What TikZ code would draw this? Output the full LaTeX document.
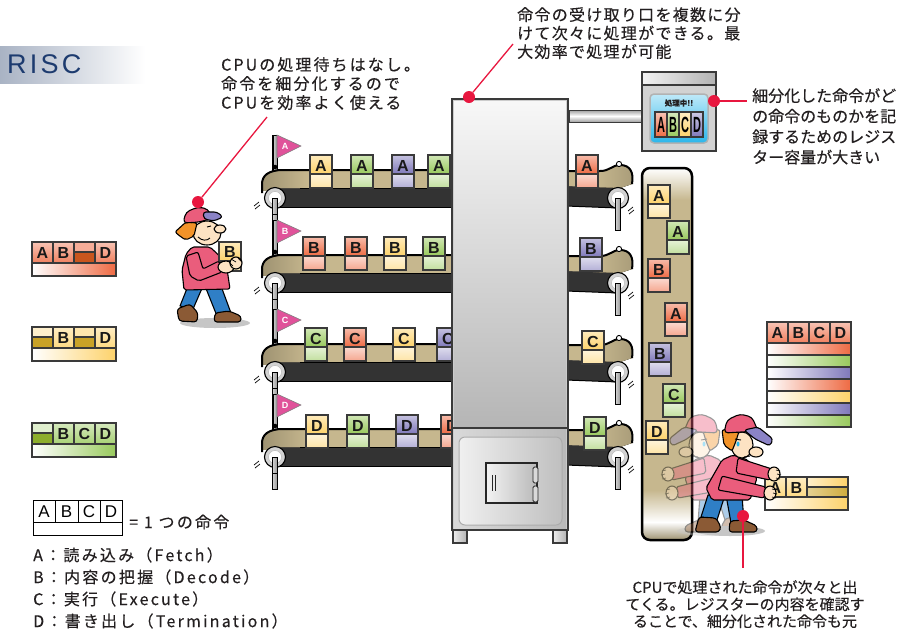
\documentclass[tikz,border=0pt]{standalone}
\usepackage{fontspec}
\newfontfamily\jp{Noto Sans CJK JP}[FakeBold=0.35]
\newfontfamily\jpwide{Noto Sans CJK JP}[LetterSpace=8, FakeBold=0.35]
\newfontfamily\jpcpu{Noto Sans CJK JP}[LetterSpace=13, FakeBold=0.35]
\newfontfamily\jplegend{Noto Sans CJK JP}[LetterSpace=14, FakeBold=0.35]
\newfontfamily\lat{Liberation Sans}
\newfontfamily\latwide{Liberation Sans}[LetterSpace=12]

\definecolor{tOr}{HTML}{EE6A43}
\definecolor{tGr}{HTML}{98C95C}
\definecolor{tPu}{HTML}{7F78BA}
\definecolor{tYe}{HTML}{FDD26A}
\definecolor{dOr}{HTML}{C9561E}
\definecolor{dYe}{HTML}{C9A227}
\definecolor{dGr}{HTML}{8DAE2C}
\definecolor{edge}{HTML}{3A3A3A}
\definecolor{belt}{HTML}{C6B78E}
\definecolor{beltrun}{HTML}{333333}
\definecolor{callred}{HTML}{E8173F}
\definecolor{flagpink}{HTML}{E0529A}
\definecolor{riscblue}{HTML}{1D3B6F}
\definecolor{banner}{HTML}{A9B3C4}
\definecolor{textgray}{HTML}{231F20}
\definecolor{jacket}{HTML}{EA5D7C}
\definecolor{jeans}{HTML}{2F7FC6}
\definecolor{shoe}{HTML}{8B5A35}
\definecolor{skin}{HTML}{FDE3C3}
\definecolor{hair}{HTML}{F29329}
\definecolor{brim}{HTML}{8B83C6}
\definecolor{screen}{HTML}{2BB6EA}

\tikzset{
  tilebox/.style={draw=edge, line width=1.1pt},
  tileletter/.style={font=\lat\bfseries\fontsize{16}{16}\selectfont, inner sep=0pt, text=black!90},
  ink/.style={draw=black, line width=1.1pt, line join=round},
  callout/.style={draw=callred, line width=1.3pt},
  calldot/.style={circle, fill=callred, inner sep=0pt, minimum size=12pt},
  note/.style={font=\jpwide\fontsize{16}{19}\selectfont, text=textgray, inner sep=0pt, align=left},
  legend/.style={font=\jplegend\fontsize{16}{16}\selectfont, text=textgray, inner sep=0pt, anchor=west},
  mast/.style={draw=black, line width=0.8pt, left color=gray!35, right color=gray!85},
  motion/.style={draw=black, line width=0.7pt}
}

% instruction tile riding a belt: left, top, colour, letter
\newcommand\beltTile[4]{%
  \path[tilebox, top color=#3!45, bottom color=#3] (#1,#2) rectangle ++(22,19);
  \path[tilebox, top color=#3!25, bottom color=#3!60] (#1,#2+19) rectangle ++(22,14);
  \node[tileletter] (tile-#1-#2) at (#1+11,#2+10.5) {#4};
}
% one lettered stage cell of an instruction: left, top, colour, letter
\newcommand\letterCell[4]{%
  \path[tilebox, top color=#3!40, bottom color=#3!85] (#1,#2) rectangle ++(21,21);
  \node[tileletter] (cell-#1-#2) at (#1+10.5,#2+11) {#4};
}
% an empty stage cell: left, top, light colour, dark colour
\newcommand\splitCell[4]{%
  \path[tilebox, fill=#3] (#1,#2) rectangle ++(21,10);
  \path[tilebox, fill=#4] (#1,#2+10) rectangle ++(21,11);
}
% lower bar of an instruction: left, top, width, height, colour
\newcommand\stageBar[5]{%
  \path[tilebox, left color=white, right color=#5] (#1,#2) rectangle ++(#3,#4);
}

% conveyor feeding the unit from the left: roller height, flag letter
\newcommand\leftBelt[2]{%
  \path[mast] (273,#1-63) rectangle (277,#1-28);
  \path[draw=black!50, line width=0.6pt, fill=flagpink] (277,#1-63) -- (301,#1-52) -- (277,#1-40) -- cycle;
  \node[font=\lat\bfseries\fontsize{9}{9}\selectfont, text=white, inner sep=0pt] (flag-#2) at (285,#1-52) {#2};
  \fill[black] (275,#1-31) circle (2.3);
  \path[fill=beltrun, draw=black, line width=1pt] (275,#1-11) rectangle (452,#1+9);
  \begin{scope}
    \clip (452,#1-28) -- (283,#1-28) .. controls (268,#1-28) and (262,#1-22) .. (262,#1-14) -- (262,#1-5) -- (272,#1-10) -- (452,#1-10) -- cycle;
    \fill[belt] (260,#1-30) rectangle (452,#1-8);
    \fill[left color=belt!80!black, middle color=white, right color=belt] (262,#1-30) rectangle (308,#1-8);
  \end{scope}
  \draw[black, line width=2pt] (452,#1-28) -- (283,#1-28) .. controls (268,#1-28) and (262,#1-22) .. (262,#1-14) -- (262,#1-5);
  \draw[black, line width=1pt] (300,#1-10) -- (452,#1-10);
  \path[fill=gray!35, draw=black, line width=1.1pt] (275,#1) circle (10.5);
  \path[fill=white, draw=gray!60] (275,#1) circle (6.5);
  \path[mast] (272.5,#1) rectangle (277.5,#1+16);
  \draw[motion] (254,#1+8) -- (259,#1+4) (255,#1+11) -- (260,#1+7);
}
% conveyor leaving the unit on the right: roller height
\newcommand\rightBelt[1]{%
  \path[fill=beltrun, draw=black, line width=1pt] (566,#1-13) -- (618,#1-11) -- (618,#1+10) -- (566,#1+8) -- cycle;
  \begin{scope}
    \clip (566,#1-27) -- (600,#1-27) .. controls (610,#1-27) and (612,#1-33) .. (620,#1-33) .. controls (630,#1-33) and (634,#1-26) .. (632,#1-14) -- (620,#1-10) -- (566,#1-12) -- cycle;
    \fill[belt] (560,#1-36) rectangle (636,#1-8);
    \fill[left color=belt, middle color=white, right color=belt!85!black] (596,#1-36) rectangle (634,#1-8);
  \end{scope}
  \draw[black, line width=2pt] (566,#1-27) -- (600,#1-27) .. controls (610,#1-27) and (612,#1-33) .. (620,#1-33) .. controls (630,#1-33) and (634,#1-26) .. (632,#1-14);
  \path[fill=white, draw=black, line width=0.9pt] (619,#1-34) circle (2.6);
  \path[fill=gray!35, draw=black, line width=1.1pt] (618,#1) circle (10.5);
  \path[fill=white, draw=gray!60] (618,#1) circle (6.5);
  \path[mast] (615.5,#1) rectangle (620.5,#1+32);
  \draw[motion] (628,#1+13) -- (633,#1+9) (629,#1+16) -- (634,#1+12);
}

% worker reaching forward, drawn around the centre of its shadow
\newcommand\reachWorker{%
  \fill[gray!45] (0,0) ellipse [x radius=35, y radius=5];
  \path[ink, fill=jeans] (-22,-36) -- (-5,-36) -- (-13,-11) -- (-29,-14) -- cycle;
  \path[ink, fill=jeans] (-4,-36) -- (12,-36) -- (14,-8) -- (1,-8) -- cycle;
  \path[ink, fill=shoe, rounded corners=3pt] (-35,1) -- (-31,-14) -- (-14,-13) -- (-9,-4) -- (-11,1) -- cycle;
  \path[ink, fill=shoe, rounded corners=3pt] (-1,1) -- (0,-10) -- (14,-11) -- (27,-5) -- (27,1) -- cycle;
  \path[ink, fill=jacket, rounded corners=2pt] (3,-76) -- (18,-71) -- (27,-53) -- (20,-31) -- (-18,-31) -- (-24,-43) -- (-8,-71) -- cycle;
  \path[ink, fill=jacket, rounded corners=2pt] (8,-73) -- (42,-62) -- (40,-51) -- (6,-58) -- cycle;
  \path[ink, fill=jacket, rounded corners=2pt] (-8,-55) -- (36,-44) -- (34,-33) -- (-12,-41) -- cycle;
  \path[ink, fill=skin] (44,-57) ellipse [x radius=6, y radius=7];
  \path[ink, fill=skin] (40,-38) ellipse [x radius=6, y radius=7];
  \draw[black, line width=0.7pt] (46,-61) -- (50,-60) (47,-57) -- (51,-56) (46,-53) -- (50,-52)
    (42,-42) -- (46,-41) (43,-38) -- (47,-37) (42,-34) -- (46,-33);
  \path[ink, fill=skin] (12,-86) ellipse [x radius=11, y radius=13];
  \path[ink, fill=skin] (26,-79) ellipse [x radius=7, y radius=5];
  \path[ink, fill=hair, rounded corners=2pt] (-8,-101) -- (10,-103) -- (6,-90) -- (2,-80) -- (-6,-86) -- cycle;
  \path[ink, fill=jacket, rounded corners=4pt] (-6,-98) -- (-3,-111) -- (10,-117) -- (22,-114) -- (28,-100) -- cycle;
  \path[ink, fill=brim, rounded corners=3pt] (14,-101) -- (28,-104) -- (43,-92) -- (40,-85) -- (25,-92) -- cycle;
  \draw[black, line width=0.9pt] (5,-92) -- (11,-91);
  \fill[screen] (8,-87) ellipse [x radius=1.5, y radius=2.5];
  \draw[black, line width=0.9pt] (14,-74) -- (20,-75);
}

\begin{document}
\begin{tikzpicture}[x=1pt, y=-1pt]
\useasboundingbox (0,0) rectangle (908,633);

% title banner
\fill[left color=banner, right color=white] (0,46) rectangle (145,83);
\node[font=\latwide\fontsize{27}{27}\selectfont, text=riscblue, anchor=west, inner sep=0pt] (title) at (7,64) {RISC};

% explanatory notes
\node[note, anchor=north west, font=\jpcpu\fontsize{16}{19}\selectfont] (noteCPU) at (221,57) {CPUの処理待ちはなし。\\命令を細分化するので\\CPUを効率よく使える};
\node[note, anchor=north west, font=\jpwide\fontsize{16}{18.5}\selectfont] (noteStage) at (517,7) {命令の受け取り口を複数に分\\けて次々に処理ができる。最\\大効率で処理が可能};
\node[note, anchor=north west, font=\jp\fontsize{16}{20.5}\selectfont] (noteReg) at (752,88) {細分化した命令がど\\の命令のものかを記\\録するためのレジス\\ター容量が大きい};
\node[note, anchor=north, align=center, font=\jp\fontsize{15}{17}\selectfont] (noteOut) at (745,580) {CPUで処理された命令が次々と出\\てくる。レジスターの内容を確認す\\ることで、細分化された命令も元};

% continuous mast on the feeding side
\path[mast] (272.5,135) rectangle (277.5,489);

% feeding conveyors
\leftBelt{198}{A}
\leftBelt{283}{B}
\leftBelt{372}{C}
\leftBelt{457}{D}
\beltTile{310}{155}{tYe}{A}
\beltTile{351}{155}{tGr}{A}
\beltTile{392}{155}{tPu}{A}
\beltTile{428}{155}{tGr}{A}
\beltTile{303}{237}{tOr}{B}
\beltTile{345}{237}{tOr}{B}
\beltTile{384}{237}{tYe}{B}
\beltTile{423}{237}{tGr}{B}
\beltTile{305}{328}{tGr}{C}
\beltTile{344}{328}{tOr}{C}
\beltTile{393}{328}{tYe}{C}
\beltTile{437}{328}{tPu}{C}
\beltTile{306}{415}{tYe}{D}
\beltTile{347}{415}{tGr}{D}
\beltTile{396}{415}{tPu}{D}
\beltTile{441}{415}{tOr}{D}

% output conveyors
\rightBelt{198}
\rightBelt{283}
\rightBelt{372}
\rightBelt{457}
\beltTile{576}{155}{tOr}{A}
\beltTile{580}{238}{tPu}{B}
\beltTile{582}{331}{tYe}{C}
\beltTile{584}{417}{tGr}{D}

% processing unit
\path[fill=gray!40, draw=edge, line width=2pt] (452,99) rectangle (568,530);
\path[top color=gray!6, bottom color=gray!58] (454,101) rectangle (566,428);
\draw[edge, line width=2pt] (452,428) -- (568,428);
\path[left color=gray!30, right color=gray!55] (454,429) rectangle (566,529);
\path[left color=gray!12, right color=gray!50, draw=gray!65, line width=1pt, rounded corners=6pt] (459,437) rectangle (562,525);
\path[left color=gray!10, right color=gray!55, draw=gray!30!black, line width=1.2pt] (486,463) rectangle (537,503);
\draw[gray!30!black, line width=0.8pt] (492,475) -- (492,491) (495,475) -- (495,491);
\path[fill=gray!30, draw=gray!30!black, line width=0.8pt, rounded corners=1.5pt] (533,467) rectangle (538,483);
\path[fill=gray!30, draw=gray!30!black, line width=0.8pt, rounded corners=1.5pt] (533,486) rectangle (538,502);
\path[left color=gray!15, right color=gray!60, draw=edge, line width=1.5pt] (453,530) rectangle (467,543);
\path[left color=gray!15, right color=gray!60, draw=edge, line width=1.5pt] (553,530) rectangle (567,543);
\draw[edge, line width=2pt] (452,99) rectangle (568,530);

% pipe to the register
\path[top color=gray!75, bottom color=gray!75, middle color=white, draw=edge, line width=1pt] (569,110) rectangle (642,122);

% register
\path[fill=gray!35, draw=edge, line width=2pt] (642,72) rectangle (716,151);
\path[left color=gray!10, right color=gray!60, draw=edge, line width=1.5pt] (642,72) rectangle (716,85);
\path[top color=screen!30, bottom color=screen, draw=gray!60, line width=1.5pt, rounded corners=4pt] (650,94) rectangle (708,143);
\node[font=\jp\bfseries\fontsize{7.5}{7.5}\selectfont, text=textgray, inner sep=0pt] (busy) at (679,103) {処理中!!};
\path[tilebox, top color=tOr!40, bottom color=tOr] (655,112) rectangle (667,137);
\path[tilebox, top color=tGr!40, bottom color=tGr] (667,112) rectangle (679,137);
\path[tilebox, top color=tYe!40, bottom color=tYe] (679,112) rectangle (691,137);
\path[tilebox, top color=tPu!40, bottom color=tPu] (691,112) rectangle (703,137);
\node[inner sep=0pt] (regA) at (661,124.5) {\scalebox{0.5}[1]{\lat\bfseries\fontsize{22}{22}\selectfont A}};
\node[inner sep=0pt] (regB) at (673,124.5) {\scalebox{0.5}[1]{\lat\bfseries\fontsize{22}{22}\selectfont B}};
\node[inner sep=0pt] (regC) at (685,124.5) {\scalebox{0.5}[1]{\lat\bfseries\fontsize{22}{22}\selectfont C}};
\node[inner sep=0pt] (regD) at (697,124.5) {\scalebox{0.5}[1]{\lat\bfseries\fontsize{22}{22}\selectfont D}};

% vertical output lane
\begin{scope}
  \clip[rounded corners=8pt] (642,168) rectangle (692,540);
  \fill[belt] (642,168) rectangle (692,540);
  \fill[top color=white, bottom color=belt] (642,168) rectangle (692,200);
  \fill[top color=belt, bottom color=white] (642,490) rectangle (692,522);
  \fill[top color=white, bottom color=belt!80!black] (642,522) rectangle (692,540);
\end{scope}
\draw[black, line width=2.5pt, rounded corners=8pt] (642,168) rectangle (692,540);
\beltTile{648}{185}{tYe}{A}
\beltTile{667}{221}{tGr}{A}
\beltTile{648}{259}{tOr}{B}
\beltTile{665}{303}{tOr}{A}
\beltTile{649}{343}{tPu}{B}
\beltTile{663}{384}{tGr}{C}
\beltTile{646}{421}{tYe}{D}

% instructions split into stages
\letterCell{32}{242}{tOr}{A}
\letterCell{53}{242}{tOr}{B}
\splitCell{74}{242}{tOr!55}{dOr}
\letterCell{95}{242}{tOr}{D}
\stageBar{32}{263}{84}{13}{tOr}
\splitCell{32}{327}{tYe!35}{dYe}
\letterCell{53}{327}{tYe}{B}
\splitCell{74}{327}{tYe!55}{dYe}
\letterCell{95}{327}{tYe}{D}
\stageBar{32}{348}{84}{13}{tYe}
\splitCell{32}{423}{tGr!30}{dGr}
\letterCell{53}{423}{tGr}{B}
\letterCell{74}{423}{tGr}{C}
\letterCell{95}{423}{tGr}{D}
\stageBar{32}{444}{84}{13}{tGr}

% register contents
\letterCell{767}{322}{tOr}{A}
\letterCell{788}{322}{tOr}{B}
\letterCell{809}{322}{tOr}{C}
\letterCell{830}{322}{tOr}{D}
\stageBar{767}{343}{84}{12}{tOr}
\stageBar{767}{355}{84}{12}{tGr}
\stageBar{767}{367}{84}{12}{tPu}
\stageBar{767}{379}{84}{12}{tOr}
\stageBar{767}{391}{84}{12}{tYe}
\stageBar{767}{403}{84}{12}{tPu}
\stageBar{767}{415}{84}{12}{tGr}

% rebuilt instruction being carried away
\path[tilebox, top color=tYe!40, bottom color=tYe!85] (765,477) rectangle (786,497);
\node[tileletter] (outA) at (775.5,487.5) {A};
\letterCell{786}{477}{tYe}{B}
\path[tilebox, left color=tYe!35, right color=tYe] (807,477) rectangle (848,487);
\path[tilebox, left color=dYe!50, right color=dYe!90] (807,487) rectangle (848,497);
\stageBar{765}{497}{83}{13}{tYe}

% legend
\draw[black, line width=0.8pt] (33,500) rectangle (122,535) (33,522) -- (122,522)
  (55,500) -- (55,522) (78,500) -- (78,522) (100,500) -- (100,522);
\node[font=\lat\fontsize{17}{17}\selectfont, inner sep=0pt] (lgA) at (44,511.5) {A};
\node[font=\lat\fontsize{17}{17}\selectfont, inner sep=0pt] (lgB) at (66.5,511.5) {B};
\node[font=\lat\fontsize{17}{17}\selectfont, inner sep=0pt] (lgC) at (89,511.5) {C};
\node[font=\lat\fontsize{17}{17}\selectfont, inner sep=0pt] (lgD) at (111,511.5) {D};
\node[legend] (legendEq) at (129,522) {= 1 つの命令};
\node[legend] (legFetch) at (33,555) {A：読み込み（Fetch）};
\node[legend] (legDecode) at (33,577) {B：内容の把握（Decode）};
\node[legend] (legExec) at (33,599) {C：実行（Execute）};
\node[legend] (legTerm) at (33,621) {D：書き出し（Termination）};

% worker turning back to the lane (motion trace)
\begin{scope}[shift={(712,531)}, xscale=-1, transparency group, opacity=0.4]
  \reachWorker
\end{scope}
% worker lifting the rebuilt instruction
\begin{scope}[shift={(730,531)}]
  \reachWorker
\end{scope}

% walking worker carrying a B tile
\fill[gray!45] (215,323) ellipse [x radius=35, y radius=5];
\path[ink, fill=jeans] (188,286) -- (203,286) -- (193,309) -- (180,306) -- cycle;
\path[ink, fill=jeans] (205,286) -- (221,286) -- (231,313) -- (217,316) -- cycle;
\path[ink, fill=shoe, rounded corners=3pt] (179,321) -- (177,309) -- (190,304) -- (198,313) -- (197,322) -- cycle;
\path[ink, fill=shoe, rounded corners=3pt] (214,322) -- (215,313) -- (229,311) -- (241,316) -- (241,322) -- cycle;
\path[ink, fill=jacket, rounded corners=2pt] (192,247) -- (210,247) -- (226,262) -- (230,289) -- (184,290) -- (182,270) -- (186,254) -- cycle;
\path[tilebox, top color=tYe!45, bottom color=tYe] (219,242) rectangle (241,261);
\node[tileletter] (carried) at (230,252) {B};
\path[tilebox, fill=tYe!40] (219,261) rectangle (241,271);
\path[ink, fill=jacket, rounded corners=2pt] (186,256) -- (198,252) -- (203,269) -- (219,261) -- (222,272) -- (199,281) -- (190,276) -- cycle;
\path[ink, fill=skin] (226,267) ellipse [x radius=8, y radius=6];
\path[ink, fill=skin] (236,263) ellipse [x radius=6, y radius=6];
\draw[black, line width=0.7pt] (229,262) -- (233,266) (231,259) -- (236,262) (238,258) -- (242,262);
\path[ink, fill=skin] (207,233) ellipse [x radius=14, y radius=12];
\path[ink, fill=skin] (220,229) ellipse [x radius=6, y radius=4];
\path[ink, fill=hair, rounded corners=2pt] (175,232) -- (186,222) -- (197,223) -- (194,236) -- (186,240) -- (181,237) -- cycle;
\path[ink, fill=jacket, rounded corners=4pt] (183,223) -- (186,212) -- (198,207) -- (208,209) -- (212,218) -- (200,222) -- cycle;
\path[ink, fill=brim, rounded corners=3pt] (203,212) -- (217,212) -- (223,217) -- (214,221) -- (204,219) -- cycle;
\draw[black, line width=0.9pt] (198,237) .. controls (202,241) and (207,241) .. (210,238);
\draw[black, line width=0.9pt] (207,227) -- (211,226);

% callouts
\node[calldot] (dotCPU) at (198,202) {};
\coordinate (tipCPU) at (267,117);
\draw[callout] (tipCPU) -- (dotCPU);
\node[calldot] (dotStage) at (469,97) {};
\coordinate (tipStage) at (513,44);
\draw[callout] (tipStage) -- (dotStage);
\node[calldot] (dotReg) at (714,101) {};
\coordinate (tipReg) at (747,101);
\draw[callout] (dotReg) -- (tipReg);
\node[calldot] (dotOut) at (743,516) {};
\coordinate (tipOut) at (743,568);
\draw[callout] (dotOut) -- (tipOut);
\end{tikzpicture}
\end{document}
